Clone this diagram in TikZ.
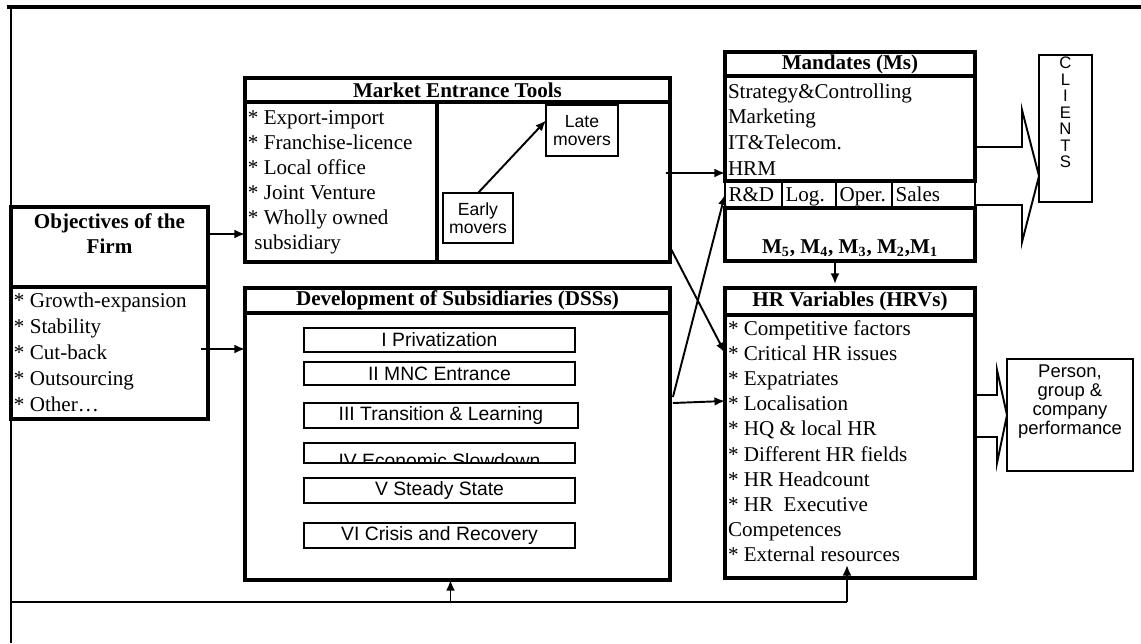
\documentclass[tikz,border=0pt]{standalone}
\usepackage{fontspec}
\setmainfont{Liberation Serif}
\setsansfont{Liberation Sans}
\usetikzlibrary{positioning}
\usetikzlibrary{calc}
\usetikzlibrary{arrows.meta}

\begin{document}
\begin{tikzpicture}[x=0.02cm, y=-0.02cm]

    \tikzset{
        box/.style={draw, line width=2.2pt, anchor=north west, inner sep=0pt, outer sep=0pt},
        cell/.style={draw, line width=1.3pt, anchor=north west, inner sep=2pt, outer sep=0pt,
            minimum height=0.54cm, text height=9pt, text depth=1pt, align=left,
            font=\fontsize{12}{14}\selectfont},
        title/.style={font=\bfseries\fontsize{12}{14.2}\selectfont},
        items/.style={anchor=north west, align=left, inner xsep=1.5pt, inner ysep=3.5pt,
            font=\fontsize{12}{14.3}\selectfont},
        thinbox/.style={draw, line width=1.2pt, anchor=north west, inner sep=0pt, outer sep=0pt,
            font=\sffamily\fontsize{10}{10.4}\selectfont},
        phase/.style={thinbox, minimum width=5.42cm, font=\sffamily\fontsize{11}{12}\selectfont}
    }
    \tikzstyle{arr}      = [line width=1.1pt, -{Latex[length=6pt, width=5pt]}];
    \tikzstyle{fine-arr} = [line width=1.1pt, -{Latex[length=6pt, width=5pt]}];
    \tikzstyle{bigarrow} = [line width=1.1pt, line join=miter];

    \useasboundingbox (0,0) rectangle (1141,643);

    % outer frame
    \draw[line width=2.8pt] (7,7) -- (1141,7);
    \draw[line width=1.7pt] (11,7) -- (11,643);

    %
    % Objectives of the firm
    %
    \node[box, minimum width=3.94cm, minimum height=1.6cm] (obj-t) at (11,207) {};
    \node[title, align=center, below=0pt of obj-t.north] (obj-title) {Objectives of the\\Firm};
    \node[box, minimum width=3.94cm, minimum height=2.64cm] (obj) at (11,287) {};
    \node[items, font=\fontsize{12}{14.9}\selectfont, inner ysep=3pt] (obj-list) at (obj.north west)
        {* Growth-expansion\\* Stability\\* Cut-back\\* Outsourcing\\* Other\ldots};

    %
    % Market entrance tools
    %
    \node[box, title, minimum width=8.5cm, minimum height=0.48cm] (met-t) at (245,78) {Market Entrance Tools};
    \node[box, minimum width=3.84cm, minimum height=3.2cm] (met-l) at (245,102) {};
    \node[box, minimum width=4.66cm, minimum height=3.2cm] (met-r) at (437,102) {};
    \node[items, inner ysep=4.5pt] (met-list) at (met-l.north west)
        {* Export-import\\* Franchise-licence\\* Local office\\* Joint Venture\\* Wholly owned\\\hspace{0.3em}subsidiary};
    \node[thinbox, align=center, minimum width=1.4cm, minimum height=1cm] (early) at (443,193) {Early\\movers};
    \node[thinbox, align=center, minimum width=1.44cm, minimum height=1.02cm] (late) at (546,105) {Late\\movers};

    %
    % Mandates
    %
    \node[box, title, minimum width=5cm, minimum height=0.48cm] (mand-t) at (725,52) {Mandates (Ms)};
    \node[box, minimum width=5cm, minimum height=2.1cm] (mand-a) at (725,76) {};
    \node[items, font=\fontsize{12}{14.75}\selectfont, inner ysep=4pt] (mand-list) at (mand-a.north west)
        {Strategy\&Controlling\\Marketing\\IT\&Telecom.\\HRM};
    \node[cell, text width=1.0cm]  (rd)    at (725,181)        {R\&D};
    \node[cell, text width=0.94cm] (log)   at (rd.north east)   {Log.};
    \node[cell, text width=0.98cm] (oper)  at (log.north east)  {Oper.};
    \node[cell, text width=1.52cm] (sales) at (oper.north east) {Sales};
    \node[box, minimum width=5cm, minimum height=1.06cm] (mand-m) at (725,208) {};
    \node[title, inner sep=2pt, above=0pt of mand-m.south] (mand-codes)
        {M\textsubscript{5}, M\textsubscript{4}, M\textsubscript{3}, M\textsubscript{2},M\textsubscript{1}};

    %
    % Development of subsidiaries
    %
    \node[box, title, minimum width=8.5cm, minimum height=0.5cm] (dss-t) at (245,288) {Development of Subsidiaries (DSSs)};
    \node[box, minimum width=8.5cm, minimum height=5.34cm] (dss) at (245,313) {};
    \node[phase, minimum height=0.48cm] (ph1) at (304,328) {I Privatization};
    \node[phase, minimum height=0.46cm] (ph2) at (304,362) {II MNC Entrance};
    \node[phase, minimum height=0.5cm, minimum width=5.48cm] (ph3) at (304,403) {III Transition \& Learning};
    \node[phase, minimum height=0.4cm] (ph4) at (304,443) {};
    \begin{scope}
        \clip ([yshift=0.6pt]ph4.south west) rectangle ([yshift=-0.6pt]ph4.north east);
        \node[font=\sffamily\fontsize{11}{12}\selectfont] (ph4-txt) at ($(ph4.center)+(0,8)$) {IV Economic Slowdown};
    \end{scope}
    \node[phase, minimum height=0.5cm] (ph5) at (304,478) {V Steady State};
    \node[phase, minimum height=0.5cm] (ph6) at (304,523) {VI Crisis and Recovery};

    %
    % HR variables
    %
    \node[box, title, minimum width=5cm, minimum height=0.54cm] (hrv-t) at (725,288) {HR Variables (HRVs)};
    \node[box, minimum width=5cm, minimum height=5.26cm] (hrv) at (725,315) {};
    \node[items, inner ysep=3pt] (hrv-list) at (hrv.north west)
        {* Competitive factors\\* Critical HR issues\\* Expatriates\\* Localisation\\* HQ \& local HR\\
         * Different HR fields\\* HR Headcount\\* HR\ \ Executive\\Competences\\* External resources};

    %
    % Clients and performance
    %
    \node[thinbox, minimum width=1.06cm, minimum height=2.94cm] (clients) at (1039,55) {};
    \node[font=\sffamily\fontsize{9.5}{9.4}\selectfont, align=center, inner sep=1pt, below=0pt of clients.north]
        (clients-txt) {C\\L\\I\\E\\N\\T\\S};
    \node[thinbox, minimum width=2.52cm, minimum height=2.24cm] (perf) at (1007,359) {};
    \node[font=\sffamily\fontsize{10.5}{10.8}\selectfont, align=center, inner sep=1pt, below=2pt of perf.north]
        (perf-txt) {Person,\\group \&\\company\\performance};

    % Block arrows
    \draw[bigarrow] (mand-a.east |- 0,147) -- (1022,147) -- (1022,110) -- (clients.west |- 0,176)
        -- (1022,242) -- (1022,205) -- (mand-m.east |- 0,205);
    \draw[bigarrow] (hrv.east |- 0,395) -- (997,395) -- (997,370) -- (perf.west |- 0,415)
        -- (997,463) -- (997,437) -- (hrv.east |- 0,437);

    %
    % Arrows
    %
    \coordinate (obj-out) at ($(obj-t.east)+(0,-13)$);
    \draw[arr] (obj-out) -- (obj-out -| met-l.west);
    \coordinate (list-out) at ($(obj.east)+(-7,-4)$);
    \draw[arr] (list-out) -- (list-out -| dss.west);
    \draw[fine-arr] (early.north) -- ($(late.west)+(0,-10)$);
    \draw[arr] ($(met-r.north east)+(-4,71)$) -- ($(mand-a.south west)+(0,-8)$);
    \draw[arr] ($(met-r.south east)+(0,-15)$) -- ($(hrv.north west)+(0,38)$);
    \draw[arr] ($(dss.north east)+(3,84)$) -- (rd.west);
    \draw[arr] ($(dss.north east)+(3,90)$) -- ($(hrv.north west)+(0,86)$);
    \coordinate (mand-out) at ($(mand-m.south)+(-15,0)$);
    \draw[arr] (mand-out) -- ($(mand-out |- hrv-t.north)+(0,-4)$);

    % Feedback loop
    \coordinate (fb-l) at (11,602);
    \coordinate (fb-r) at (847,602);
    \coordinate (fb-m) at ($(dss.south |- fb-l)+(-7,0)$);
    \draw[line width=1.1pt] (fb-l) -- (fb-r);
    \draw[arr] (fb-r) -- ($(hrv.south -| fb-r)+(0,-13)$);
    \draw[arr] (fb-m) -- (fb-m |- dss.south);
\end{tikzpicture}
\end{document}
